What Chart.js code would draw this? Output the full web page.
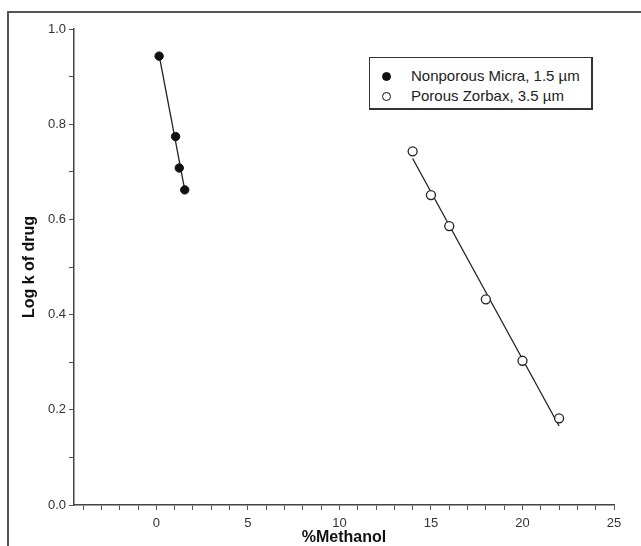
<!DOCTYPE html>
<html lang="en">
<head>
  <meta charset="UTF-8">
  <title>Log k of drug vs %Methanol</title>
  <script src="https://cdn.jsdelivr.net/npm/chart.js"></script>
  <style>
    body { margin: 0; background: #fff; }
    #wrap { position: relative; width: 641px; height: 546px; overflow: hidden; }
    #frame {
      position: absolute; left: 7px; top: 11px; width: 700px; height: 600px;
      border-top: 2px solid #555; border-left: 2px solid #555;
    }
    #legend {
      position: absolute; left: 369px; top: 57px; width: 221px; height: 50px;
      border: 1px solid #333; border-right-width: 2px; border-bottom-width: 2px;
      background: #fff;
      font: 15px "Liberation Sans", Arial, sans-serif; color: #222;
    }
    #legend .row { position: absolute; left: 0; height: 18px; line-height: 18px; }
    #legend .dot {
      position: absolute; left: 12px; top: 5px; width: 7px; height: 7px;
      border-radius: 50%; border: 1px solid #111; box-sizing: content-box;
    }
    #legend .txt { position: absolute; left: 41px; white-space: nowrap; }
  </style>
</head>
<body>
  <div id="wrap">
    <canvas id="drugChart" width="641" height="546"></canvas>
    <div id="frame"></div>
    <div id="legend"></div>
  </div>

  <script>
    // Nonporous Micra column, 1.5 um
    const micraX = [0.15, 1.05, 1.25, 1.55];
    const micraY = [0.943, 0.774, 0.708, 0.662];
    // Porous Zorbax column, 3.5 um
    const zorbaxX = [14, 15, 16, 18, 20, 22];
    const zorbaxY = [0.743, 0.651, 0.586, 0.432, 0.303, 0.182];

    // end points of the drawn fit lines
    const micraFitX = [0.15, 1.55];
    const micraFitY = [0.945, 0.662];
    const zorbaxFitX = [14, 22];
    const zorbaxFitY = [0.728, 0.166];

    const seriesLabels = ['Nonporous Micra, 1.5 \u00b5m', 'Porous Zorbax, 3.5 \u00b5m'];
    const xMajorTicks = [0, 5, 10, 15, 20, 25];
    const yMajorTicks = [0, 0.2, 0.4, 0.6, 0.8, 1.0];

    function toPoints(xs, ys) {
      return xs.map((x, i) => ({ x: x, y: ys[i] }));
    }

    const tickFont = { family: '"Liberation Sans", Arial, sans-serif', size: 13 };
    const titleFont = { family: '"Liberation Sans", Arial, sans-serif', size: 16, weight: 'bold', lineHeight: 1 };

    const ctx = document.getElementById('drugChart').getContext('2d');
    new Chart(ctx, {
      type: 'scatter',
      data: {
        datasets: [
          {
            label: seriesLabels[0],
            data: toPoints(micraX, micraY),
            pointRadius: 4.2,
            pointBackgroundColor: '#111',
            pointBorderColor: '#111',
            pointBorderWidth: 1,
            showLine: false
          },
          {
            label: seriesLabels[1],
            data: toPoints(zorbaxX, zorbaxY),
            pointRadius: 4.5,
            pointBackgroundColor: '#fff',
            pointBorderColor: '#222',
            pointBorderWidth: 1.3,
            showLine: false
          },
          {
            label: 'micra fit',
            data: toPoints(micraFitX, micraFitY),
            showLine: true,
            borderColor: '#222',
            borderWidth: 1.3,
            pointRadius: 0
          },
          {
            label: 'zorbax fit',
            data: toPoints(zorbaxFitX, zorbaxFitY),
            showLine: true,
            borderColor: '#222',
            borderWidth: 1.3,
            pointRadius: 0
          }
        ]
      },
      options: {
        responsive: false,
        animation: false,
        layout: { padding: { top: 29, right: 27, bottom: 0, left: 0 } },
        plugins: {
          legend: { display: false },
          tooltip: { enabled: false }
        },
        scales: {
          x: {
            type: 'linear',
            min: -4.5,
            max: 25,
            afterFit: (scale) => { scale.height = 41; },
            border: { color: '#444', width: 1.5 },
            grid: { drawOnChartArea: false, tickLength: 5, color: '#555', tickWidth: 1 },
            ticks: {
              stepSize: 1,
              includeBounds: false,
              autoSkip: false,
              maxRotation: 0,
              padding: 6,
              color: '#333',
              font: tickFont,
              callback: (v) => xMajorTicks.includes(v) ? String(v) : ''
            },
            title: {
              display: true,
              text: '%Methanol',
              color: '#111',
              font: titleFont,
              padding: { top: 0, bottom: 0 }
            }
          },
          y: {
            type: 'linear',
            min: 0,
            max: 1,
            afterFit: (scale) => { scale.width = 74; },
            border: { color: '#444', width: 1.5 },
            grid: { drawOnChartArea: false, tickLength: 5, color: '#555', tickWidth: 1 },
            ticks: {
              stepSize: 0.1,
              autoSkip: false,
              padding: 3,
              color: '#333',
              font: tickFont,
              callback: (v) => yMajorTicks.some(t => Math.abs(t - v) < 1e-6) ? v.toFixed(1) : ''
            },
            title: {
              display: true,
              text: 'Log k of drug',
              color: '#111',
              font: titleFont,
              padding: { top: 22, bottom: 0 }
            }
          }
        }
      }
    });

    // boxed legend inside the plot
    const legendEl = document.getElementById('legend');
    const legendFill = ['#111', '#fff'];
    seriesLabels.forEach((lbl, i) => {
      const row = document.createElement('div');
      row.className = 'row';
      row.style.top = (9 + i * 20) + 'px';
      const dot = document.createElement('span');
      dot.className = 'dot';
      dot.style.background = legendFill[i];
      const txt = document.createElement('span');
      txt.className = 'txt';
      txt.textContent = lbl;
      row.appendChild(dot);
      row.appendChild(txt);
      legendEl.appendChild(row);
    });
  </script>
</body>
</html>
